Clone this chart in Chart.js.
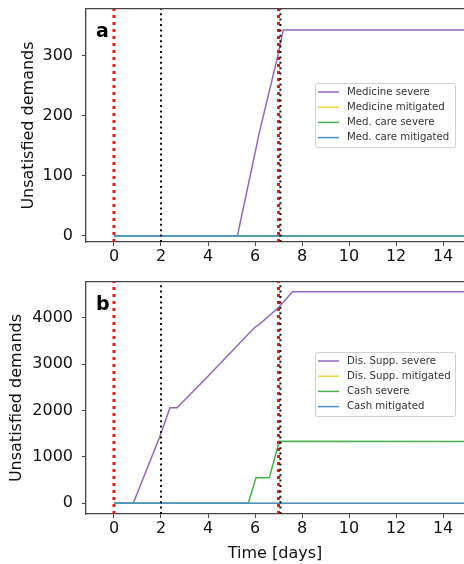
<!DOCTYPE html>
<html>
<head>
<meta charset="utf-8">
<script src="https://cdn.jsdelivr.net/npm/chart.js@4.4.1/dist/chart.umd.min.js"></script>
<style>
  body { margin: 0; background: #fff; overflow: hidden; }
  canvas { display: block; }
</style>
</head>
<body>
<canvas id="chartA" width="464" height="270"></canvas>
<canvas id="chartB" width="464" height="294"></canvas>
<script>
// ---- data ----
const xTicks = [0, 2, 4, 6, 8, 10, 12, 14];
const xRange = [-1.19, 14.89];

// panel a
const yTicksA = [0, 100, 200, 300];
const yRangeA = [-10, 378];
const labelsA = ["Medicine severe", "Medicine mitigated", "Med. care severe", "Med. care mitigated"];
const medSevereX = [0, 5.25, 6.2, 7.0, 7.2, 15];
const medSevereY = [0, 0, 175, 305, 343, 343];
const medMitigX = [0, 15];
const medMitigY = [0, 0];
const careSevereX = [0, 15];
const careSevereY = [0, 0];
const careMitigX = [0, 15];
const careMitigY = [0, 0];

// panel b
const yTicksB = [0, 1000, 2000, 3000, 4000];
const yRangeB = [-230, 4770];
const labelsB = ["Dis. Supp. severe", "Dis. Supp. mitigated", "Cash severe", "Cash mitigated"];
const disSevereX = [0, 0.82, 1.96, 2.38, 2.68, 4, 6.0, 6.15, 7.03, 7.6, 15];
const disSevereY = [0, 0, 1450, 2060, 2060, 2740, 3800, 3840, 4237, 4560, 4560];
const disMitigX = [0, 15];
const disMitigY = [0, 0];
const cashSevereX = [0, 5.71, 6.04, 6.61, 7.03, 15];
const cashSevereY = [0, 0, 552, 552, 1340, 1335];
const cashMitigX = [0, 15];
const cashMitigY = [0, 0];

// vertical event markers (days)
const redLines = [0, 7.0];
const blackLines = [2, 7.08];

const colors = ["#9467bd", "#f5d33c", "#4caf50", "#4a90c8"];
const FONT = "'DejaVu Sans', sans-serif";
const SPINE = "#444";

function pts(xs, ys) {
  return xs.map((x, i) => ({ x: x, y: ys[i] }));
}

function series(labels, xs, ys) {
  const order = [4, 3, 2, 1];
  return labels.map((lab, i) => ({
    label: lab,
    data: pts(xs[i], ys[i]),
    borderColor: colors[i],
    borderWidth: 1.5,
    pointRadius: 0,
    tension: 0,
    order: order[i],
  }));
}

function vlines(xs, yr, color, width, dash, order) {
  return xs.map((x) => ({
    label: "_vline",
    data: [{ x: x, y: yr[0] }, { x: x, y: yr[1] }],
    borderColor: color,
    borderWidth: width,
    borderDash: dash,
    borderCapStyle: "butt",
    pointRadius: 0,
    order: order,
  }));
}

// legend box drawn inside the axes, matplotlib style
const boxLegend = {
  id: "boxLegend",
  afterDatasetsDraw(chart, args, opts) {
    const ctx = chart.ctx;
    const items = chart.data.datasets.filter((d) => d.label !== "_vline");
    ctx.save();
    ctx.globalAlpha = 0.85;
    ctx.fillStyle = "#fff";
    ctx.strokeStyle = "#d0d0d0";
    ctx.lineWidth = 1;
    ctx.beginPath();
    ctx.roundRect(opts.x + 0.5, opts.y + 0.5, opts.w, opts.h, 2);
    ctx.fill();
    ctx.globalAlpha = 1;
    ctx.stroke();
    ctx.font = opts.fontSize + "px " + FONT;
    ctx.textBaseline = "middle";
    ctx.fillStyle = "#333";
    items.forEach((d, i) => {
      const y = opts.y + opts.first + i * opts.step;
      ctx.strokeStyle = d.borderColor;
      ctx.lineWidth = 1.5;
      ctx.beginPath();
      ctx.moveTo(opts.x + 3, y);
      ctx.lineTo(opts.x + 24, y);
      ctx.stroke();
      ctx.fillText(d.label, opts.x + 32, y);
    });
    ctx.restore();
  },
};

// bold panel letter
const panelTag = {
  id: "panelTag",
  afterDatasetsDraw(chart, args, opts) {
    const ctx = chart.ctx;
    ctx.save();
    ctx.font = "bold 19px " + FONT;
    ctx.fillStyle = "#000";
    ctx.textBaseline = "alphabetic";
    ctx.fillText(opts.text, chart.chartArea.left + 10, chart.chartArea.top + 28);
    ctx.restore();
  },
};

function makeChart(id, datasets, yTicks, yRange, opts) {
  return new Chart(document.getElementById(id), {
    type: "line",
    data: { datasets: datasets },
    options: {
      responsive: false,
      animation: false,
      layout: { padding: { top: opts.top, left: 0, right: 0, bottom: 0 } },
      scales: {
        x: {
          type: "linear",
          position: "bottom",
          min: xRange[0],
          max: xRange[1],
          afterBuildTicks: (s) => { s.ticks = xTicks.map((v) => ({ value: v })); },
          afterFit: (s) => { s.height = opts.xHeight; s.paddingLeft = 0; s.paddingRight = 0; },
          ticks: {
            color: "#111",
            font: { family: FONT, size: 16 },
            padding: 1,
            maxRotation: 0,
            autoSkip: false,
            callback: (v) => String(v),
          },
          grid: { drawOnChartArea: false, drawTicks: true, tickLength: 4, tickColor: SPINE, tickWidth: 1 },
          border: { color: SPINE, width: 1.3 },
          title: {
            display: opts.xTitle,
            text: "Time [days]",
            color: "#111",
            font: { family: FONT, size: 16 },
            padding: { top: 0, bottom: 1 },
          },
        },
        xTop: {
          type: "linear",
          position: "top",
          min: xRange[0],
          max: xRange[1],
          ticks: { display: false },
          grid: { drawOnChartArea: false, drawTicks: false },
          border: { color: SPINE, width: 1.3 },
          afterFit: (s) => { s.height = 0; s.paddingLeft = 0; s.paddingRight = 0; },
        },
        y: {
          type: "linear",
          min: yRange[0],
          max: yRange[1],
          afterBuildTicks: (s) => { s.ticks = yTicks.map((v) => ({ value: v })); },
          afterFit: (s) => { s.width = 86; s.paddingTop = 0; s.paddingBottom = 0; },
          ticks: {
            color: "#111",
            font: { family: FONT, size: 16 },
            padding: 9,
            callback: (v) => String(v),
          },
          grid: { drawOnChartArea: false, drawTicks: true, tickLength: 4, tickColor: SPINE, tickWidth: 1 },
          border: { color: SPINE, width: 1.3 },
          title: {
            display: true,
            text: "Unsatisfied demands",
            color: "#111",
            font: { family: FONT, size: 16 },
            padding: { top: opts.yTitlePad, bottom: 0 },
          },
        },
      },
      plugins: {
        legend: { display: false },
        tooltip: { enabled: false },
        boxLegend: opts.legend,
        panelTag: { text: opts.tag },
      },
    },
    plugins: [boxLegend, panelTag],
  });
}

const dataA = series(
  labelsA,
  [medSevereX, medMitigX, careSevereX, careMitigX],
  [medSevereY, medMitigY, careSevereY, careMitigY]
).concat(
  vlines(redLines, yRangeA, "#e41a1c", 3, [3, 4], 0.5),
  vlines(blackLines, yRangeA, "#111", 2, [2, 3.4], 0)
);

const dataB = series(
  labelsB,
  [disSevereX, disMitigX, cashSevereX, cashMitigX],
  [disSevereY, disMitigY, cashSevereY, cashMitigY]
).concat(
  vlines(redLines, yRangeB, "#e41a1c", 3, [3, 4], 0.5),
  vlines(blackLines, yRangeB, "#111", 2, [2, 3.4], 0)
);

makeChart("chartA", dataA, yTicksA, yRangeA, {
  top: 9,
  xHeight: 28,
  xTitle: false,
  yTitlePad: 19,
  tag: "a",
  legend: { x: 315, y: 83, w: 140, h: 64, first: 9, step: 15.2, fontSize: 10.2 },
});

makeChart("chartB", dataB, yTicksB, yRangeB, {
  top: 12,
  xHeight: 50,
  xTitle: true,
  yTitlePad: 7,
  tag: "b",
  legend: { x: 315, y: 82, w: 140, h: 64, first: 9, step: 15.2, fontSize: 10.2 },
});
</script>
</body>
</html>
